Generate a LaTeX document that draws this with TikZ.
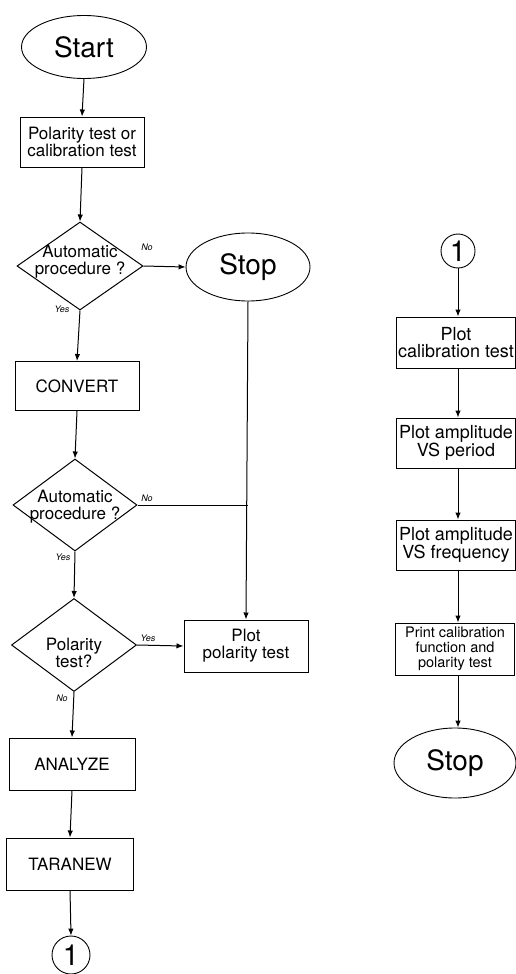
\documentclass[tikz,border=0pt]{standalone}
\usepackage{fontspec}
\setmainfont{TeX Gyre Heros}
\usetikzlibrary{shapes.geometric,arrows.meta}
\begin{document}
\begin{tikzpicture}[x=1pt,y=-1pt,
  every node/.style={inner sep=0pt, align=center},
  line/.style={line width=1pt},
  arr/.style={line width=1pt,-{Latex[length=7pt,width=5.5pt]}},
  term/.style={draw,ellipse,line width=0.9pt,minimum width=124pt,minimum height=68pt,font=\fontsize{28}{30}\selectfont},
  proc/.style={draw,rectangle,line width=1pt,minimum width=124pt,minimum height=50pt,font=\fontsize{17}{17}\selectfont},
  rproc/.style={proc,minimum width=119pt,font=\fontsize{18}{17.5}\selectfont},
  dec/.style={draw,diamond,line width=1pt,minimum width=126pt,minimum height=90pt},
  dtext/.style={font=\fontsize{17}{17}\selectfont},
  conn/.style={draw,circle,line width=0.9pt,minimum size=36pt,font=\fontsize{29}{29}\selectfont},
  lab/.style={font=\fontsize{9}{9}\selectfont\itshape}
]
\useasboundingbox (0,0) rectangle (516,974);

% left column
\node[term,minimum width=125pt,minimum height=63pt] (start) at (84,47) {Start};
\node[proc] (b1) at (82,142) {Polarity test or\\calibration test};
\node[dec,minimum width=126pt,minimum height=88pt] (d1) at (80,266) {};
\node[dtext] (d1t) at (80,262) {Automatic\\procedure ?};
\node[term] (stop1) at (248,267) {Stop};
\node[proc,minimum height=49pt] (conv) at (77,386) {CONVERT};
\node[dec,minimum width=124pt,minimum height=92pt] (d2) at (75,505) {};
\node[dtext] (d2t) at (75,507) {Automatic\\procedure ?};
\node[dec,minimum width=125pt,minimum height=93pt] (d3) at (74,645) {};
\node[dtext] (d3t) at (74,653) {Polarity\\test?};
\node[proc,minimum height=52pt] (pp) at (246,646) {Plot\\polarity test};
\node[proc,minimum width=126pt,minimum height=52pt] (an) at (72,764) {ANALYZE};
\node[proc,minimum width=127pt,minimum height=52pt] (ta) at (70,864) {TARANEW};
\node[conn,minimum size=38pt] (c1) at (71,955) {1};

% right column
\node[conn,minimum size=34pt] (c2) at (458,251) {1};
\node[rproc,minimum height=51pt] (r1) at (456,342.5) {Plot\\calibration test};
\node[rproc] (r2) at (456,443) {Plot amplitude\\VS period};
\node[rproc] (r3) at (456,545) {Plot amplitude\\VS frequency};
\node[rproc,minimum height=52pt,font=\fontsize{14.5}{15}\selectfont] (r4) at (455,649) {Print calibration\\function and\\polarity test};
\node[term,minimum width=122pt,minimum height=70pt] (stop2) at (455,763) {Stop};

% labels
\node[lab] (l1) at (147,247) {No};
\node[lab] (l2) at (62,309) {Yes};
\node[lab] (l3) at (147,498) {No};
\node[lab] (l4) at (63,557) {Yes};
\node[lab] (l5) at (148,638) {Yes};
\node[lab] (l6) at (62,698) {No};

% connectors left
\draw[arr] (start.south) -- (b1.north);
\draw[arr] (b1.south) -- (d1.north);
\draw[arr] (d1.east) -- (stop1.west);
\draw[arr] (d1.south) -- (conv.north);
\draw[arr] (conv.south) -- (d2.north);
\draw[arr] (d2.south) -- (d3.north);
\draw[arr] (d3.east) -- (pp.west);
\draw[arr] (d3.south) -- (an.north);
\draw[arr] (an.south) -- (ta.north);
\draw[arr] (ta.south) -- (c1.north);
\draw[arr] (stop1.south) -- (pp.north);
\coordinate (j) at (stop1.south |- d2.east);
\draw[line] (d2.east) -- (j);

% connectors right
\draw[arr] (c2.south) -- (c2.south |- r1.north);
\draw[arr] (r1.south -| c2) -- (r2.north -| c2);
\draw[arr] (r2.south -| c2) -- (r3.north -| c2);
\draw[arr] (r3.south -| c2) -- (r4.north -| c2);
\draw[arr] (r4.south -| c2) -- (stop2.north -| c2);
\end{tikzpicture}
\end{document}
